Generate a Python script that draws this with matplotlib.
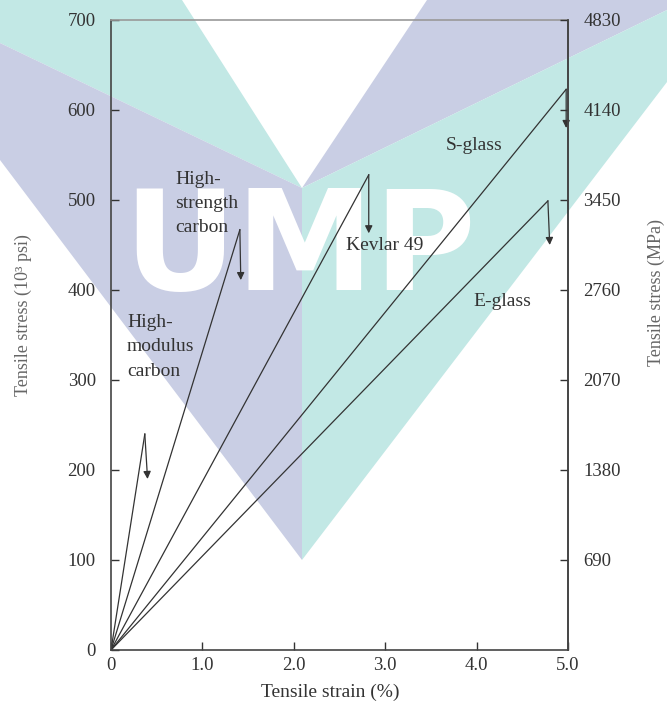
import matplotlib
matplotlib.use("Agg")
import matplotlib.pyplot as plt
from matplotlib.patches import Polygon

# данные: волокна, точки разрушения и концы стрелок (деформация %, напряжение 10^3 psi)
fibers = ["High-modulus carbon", "High-strength carbon", "Kevlar 49", "S-glass", "E-glass"]
strain_break = [0.37, 1.41, 2.82, 4.98, 4.78]
stress_break = [240, 467, 528, 623, 499]
strain_drop = [0.40, 1.42, 2.82, 4.98, 4.80]
stress_drop = [190, 411, 463, 580, 450]

x_ticks = [0, 1, 2, 3, 4, 5]
x_tick_labels = ["0", "1.0", "2.0", "3.0", "4.0", "5.0"]
y_ticks = [0, 100, 200, 300, 400, 500, 600, 700]
mpa_ticks = [100, 200, 300, 400, 500, 600, 700]
mpa_labels = ["690", "1380", "2070", "2760", "3450", "4140", "4830"]

# подписи волокон на графике
label_texts = ["High-\nmodulus\ncarbon", "High-\nstrength\ncarbon", "Kevlar 49", "S-glass", "E-glass"]
label_x = [0.175, 0.70, 2.99, 3.97, 4.28]
label_y = [373, 532, 450, 560, 387]

W, H = 667, 707
ink = "#333333"
lav = "#c9cee4"
teal = "#c2e8e5"

plt.rcParams["font.family"] = ["Liberation Serif", "DejaVu Serif"]

fig = plt.figure(figsize=(W / 100, H / 100), dpi=100)


def px(points):
    return [(x / W, 1 - y / H) for x, y in points]


# водяной знак на фоне
shapes = [
    ([(0, 0), (182, 0), (302, 188), (0, 43)], teal),
    ([(302, 188), (427, 0), (667, 0), (667, 10)], lav),
    ([(302, 188), (667, 10), (667, 82), (302, 560)], teal),
    ([(0, 43), (302, 188), (302, 560), (0, 160)], lav),
]
for pts, c in shapes:
    fig.add_artist(Polygon(px(pts), closed=True, facecolor=c, edgecolor="none",
                           transform=fig.transFigure, zorder=-3))
fig.text(300 / W, 1 - 290 / H, "UMP", color="white", fontsize=100, fontweight="bold",
         family="DejaVu Sans", ha="center", va="baseline", zorder=-2)

ax = fig.add_axes([111 / W, 1 - 650 / H, 457 / W, 630 / H])
ax.set_facecolor("none")

for i in range(len(fibers)):
    ax.plot([0, strain_break[i]], [0, stress_break[i]], color=ink, lw=0.9)
    ax.annotate("", xy=(strain_drop[i], stress_drop[i]),
                xytext=(strain_break[i], stress_break[i]),
                arrowprops=dict(arrowstyle="-|>", color=ink, lw=0.9,
                                mutation_scale=11, shrinkA=0, shrinkB=0))

for t, x, y in zip(label_texts, label_x, label_y):
    if "\n" in t:
        ax.text(x, y, t, fontsize=14, color=ink, ha="left", va="top", linespacing=1.55)
    else:
        ax.text(x, y, t, fontsize=14, color=ink, ha="center", va="center")

ax.set_xlim(0, 5)
ax.set_ylim(0, 700)
ax.set_xticks(x_ticks)
ax.set_xticklabels(x_tick_labels)
ax.set_yticks(y_ticks)
ax.tick_params(direction="in", length=6, width=1, colors=ink, labelsize=13.5)
ax.tick_params(axis="y", pad=11)
ax.tick_params(axis="x", pad=5)

for s in ["left", "bottom", "right"]:
    ax.spines[s].set_color("#444444")
    ax.spines[s].set_linewidth(1.2)
ax.spines["top"].set_color("#999999")
ax.spines["top"].set_linewidth(1.2)

ax2 = ax.twinx()
ax2.set_ylim(0, 700)
ax2.set_yticks(mpa_ticks)
ax2.set_yticklabels(mpa_labels)
ax2.tick_params(direction="in", length=6, width=1, colors=ink, labelsize=13.5, pad=11)
ax2.spines["top"].set_visible(False)
ax2.spines["left"].set_visible(False)
ax2.spines["bottom"].set_visible(False)
ax2.spines["right"].set_color("#444444")
ax2.spines["right"].set_linewidth(1.2)

ax.set_xlabel("Tensile strain (%)", fontsize=14, color=ink)
ax.xaxis.set_label_coords(0.479, -0.053)
ax.set_ylabel("Tensile stress (10³ psi)", fontsize=13, color="#666666")
ax.yaxis.set_label_coords(-0.173, 0.532)
ax2.set_ylabel("Tensile stress (MPa)", fontsize=13, color="#666666")
ax2.yaxis.set_label_coords(1.175, 0.567)

fig.savefig("out.png", dpi=100)
